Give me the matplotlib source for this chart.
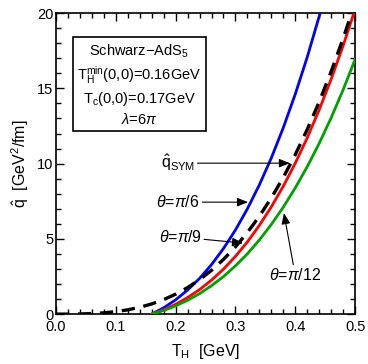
import matplotlib
matplotlib.use("Agg")
import matplotlib.pyplot as plt
from matplotlib.ticker import MultipleLocator

plt.rcParams['font.family'] = ['Liberation Sans', 'DejaVu Sans']
plt.rcParams['mathtext.fontset'] = 'custom'
plt.rcParams['mathtext.rm'] = 'Liberation Sans'
plt.rcParams['mathtext.it'] = 'Liberation Sans:italic'
plt.rcParams['mathtext.bf'] = 'Liberation Sans:bold'
plt.rcParams['mathtext.sf'] = 'Liberation Sans'

# ---- data ----
T_sym = [0.00, 0.02, 0.04, 0.06, 0.08, 0.10, 0.12, 0.14, 0.16, 0.18, 0.20, 0.22, 0.24,
         0.26, 0.28, 0.30, 0.32, 0.34, 0.36, 0.38, 0.40, 0.42, 0.44, 0.46, 0.48, 0.50]
q_sym = [0.0, 0.001, 0.011, 0.036, 0.085, 0.166, 0.286, 0.454, 0.678, 0.966, 1.325, 1.763, 2.289,
         2.911, 3.635, 4.471, 5.426, 6.509, 7.726, 9.087, 10.598, 12.269, 14.106, 16.119, 18.314, 20.70]

T_col = [0.16, 0.18, 0.20, 0.22, 0.24, 0.26, 0.28, 0.30, 0.32, 0.34, 0.36, 0.38, 0.40,
         0.42, 0.44, 0.46, 0.48, 0.50]
q_pi6 = [0.0, 0.42, 0.95, 1.60, 2.37, 3.29, 4.36, 5.59, 7.00, 8.59, 10.38, 12.39, 14.62,
         17.08, 19.79, 22.75, 25.9, 29.5]
q_pi9 = [0.0, 0.29, 0.65, 1.10, 1.63, 2.26, 2.99, 3.84, 4.80, 5.90, 7.13, 8.50, 10.03,
         11.72, 13.58, 15.62, 17.84, 20.25]
q_pi12 = [0.0, 0.24, 0.55, 0.92, 1.36, 1.89, 2.50, 3.21, 4.01, 4.93, 5.96, 7.11, 8.39,
          9.80, 11.35, 13.05, 14.91, 16.93]

xticks = [0.0, 0.1, 0.2, 0.3, 0.4, 0.5]
yticks = [0, 5, 10, 15, 20]

fig = plt.figure(figsize=(3.68, 3.64), dpi=100)
ax = fig.add_axes([0.152, 0.137, 0.813, 0.827])

ax.plot(T_col, q_pi6, color='#0000ff', lw=2.0, zorder=3)
ax.plot(T_col, q_pi9, color='#ff0000', lw=2.0, zorder=3)
ax.plot(T_col, q_pi12, color='#00a000', lw=2.0, zorder=3)
ax.plot(T_sym, q_sym, color='black', lw=2.4, dashes=(4.0, 2.6), zorder=4)

ax.set_xlim(0, 0.5)
ax.set_ylim(0, 20)
ax.set_xticks(xticks)
ax.set_xticklabels(['%.1f' % v for v in xticks])
ax.set_yticks(yticks)
ax.xaxis.set_minor_locator(MultipleLocator(0.02))
ax.yaxis.set_minor_locator(MultipleLocator(1))
ax.tick_params(which='both', direction='in', top=True, right=True, labelsize=10.5, width=1.0)
ax.tick_params(which='major', length=6)
ax.tick_params(axis='x', which='major', pad=4)
ax.tick_params(axis='y', which='major', pad=2)
ax.tick_params(which='minor', length=3.5)
for s in ax.spines.values():
    s.set_linewidth(1.2)

ax.set_xlabel(r'T$_\mathrm{H}$  [GeV]', fontsize=11.5, labelpad=6)
ax.set_ylabel(r'$\hat{\mathrm{q}}$  [GeV$^2$/fm]', fontsize=11.5, labelpad=4)

box_txt = ('Schwarz\u2212AdS$_5$\n'
           r'T$_\mathrm{H}^\mathrm{min}$(0,0)=0.16GeV' + '\n'
           r'T$_\mathrm{c}$(0,0)=0.17GeV' + '\n'
           r'$\lambda$=6$\pi$')
ax.text(0.139, 18.05, box_txt, ha='center', va='top', fontsize=10.5, linespacing=1.3,
        bbox=dict(boxstyle='square,pad=0.3', fc='white', ec='black', lw=1.2))

ap = dict(arrowstyle='-|>,head_length=0.5,head_width=0.2', lw=0.8, color='black',
          mutation_scale=13, shrinkA=0, shrinkB=0)
fs = 11.5
ax.annotate(r'$\hat{\mathrm{q}}_\mathrm{SYM}$', xy=(0.391, 10.03), xytext=(0.232, 10.03),
            ha='right', va='center', fontsize=fs, arrowprops=ap)
ax.annotate(r'$\theta$=$\pi$/6', xy=(0.321, 7.44), xytext=(0.240, 7.44),
            ha='right', va='center', fontsize=fs, arrowprops=ap)
ax.annotate(r'$\theta$=$\pi$/9', xy=(0.3127, 4.72), xytext=(0.243, 5.12),
            ha='right', va='center', fontsize=fs, arrowprops=ap)
ax.annotate(r'$\theta$=$\pi$/12', xy=(0.381, 6.71), xytext=(0.400, 3.1),
            ha='center', va='top', fontsize=fs, arrowprops=ap)

fig.savefig('out.png', dpi=100, facecolor='white')
